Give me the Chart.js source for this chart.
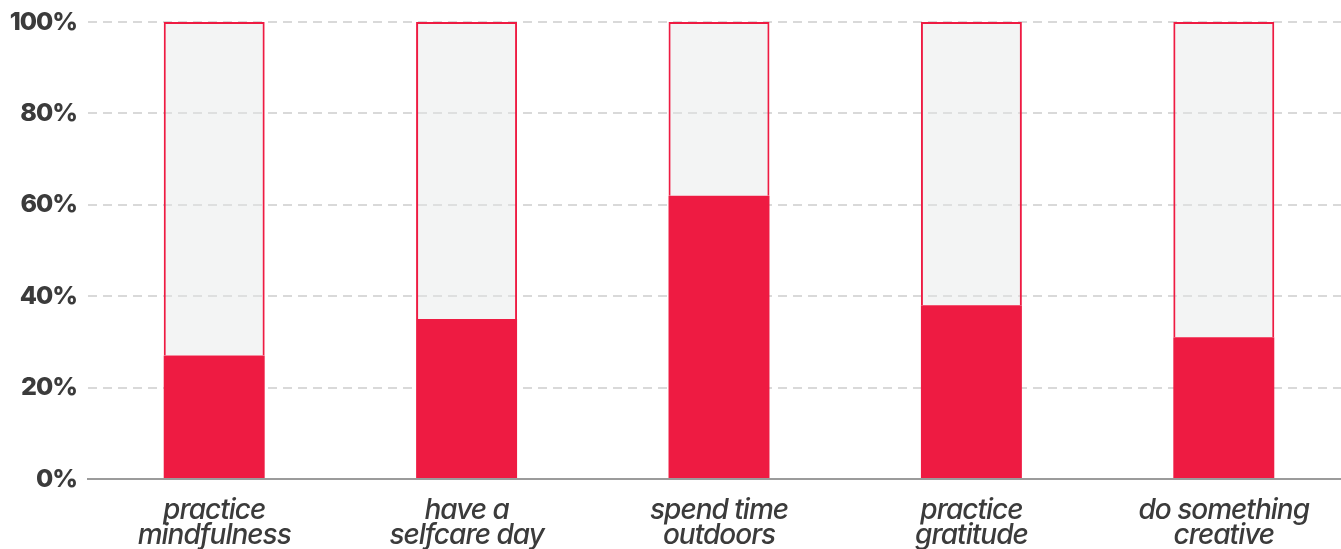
<!DOCTYPE html>
<html>
<head>
<meta charset="utf-8">
<script src="https://cdn.jsdelivr.net/npm/chart.js@4.4.1/dist/chart.umd.min.js"></script>
<style>
  html, body { margin: 0; padding: 0; background: #fff; overflow: hidden; }
  #wrap { position: relative; width: 1350px; height: 549px; }
</style>
</head>
<body>
<div id="wrap"><canvas id="chart"></canvas></div>
<script>
(function () {
    'use strict';

    // ====== Data ======
    const categories = [
        ['practice', 'mindfulness'],
        ['have a', 'selfcare day'],
        ['spend time', 'outdoors'],
        ['practice', 'gratitude'],
        ['do something', 'creative']
    ];
    const shareYes = [27, 35, 62, 38, 31];
    const shareRest = [73, 65, 38, 62, 69];
    const yTicks = [0, 20, 40, 60, 80, 100];

    const RED = '#ee1b42';
    const TEXT = '#3b3b3b';

    // tighter tracking for all canvas text
    const tracking = {
        id: 'tracking',
        beforeLayout(chart) { chart.ctx.letterSpacing = '-1px'; },
        beforeDraw(chart) { chart.ctx.letterSpacing = '-1px'; }
    };

    new Chart(document.getElementById('chart'), {
        type: 'bar',
        data: {
            labels: categories,
            datasets: [{
                data: shareYes,
                backgroundColor: RED,
                borderWidth: 0
            }, {
                data: shareRest,
                backgroundColor: 'rgba(228,231,231,0.45)',
                borderColor: RED,
                borderWidth: 2,
                borderSkipped: 'bottom'
            }]
        },
        options: {
            responsive: true,
            maintainAspectRatio: false,
            animation: false,
            layout: { padding: { top: 22, right: 0, left: 0, bottom: 0 } },
            datasets: {
                bar: { categoryPercentage: 0.4, barPercentage: 1 }
            },
            plugins: {
                legend: { display: false },
                tooltip: { enabled: false }
            },
            scales: {
                x: {
                    stacked: true,
                    grid: { display: false, drawTicks: false },
                    border: { display: true, color: '#9b9b9b', width: 2 },
                    ticks: {
                        padding: 19,
                        color: TEXT,
                        maxRotation: 0,
                        font: { family: 'Inter', size: 28, style: 'italic', weight: '500', lineHeight: 0.9 }
                    },
                    afterFit: (s) => { s.height = 70; }
                },
                y: {
                    stacked: true,
                    min: 0,
                    max: 100,
                    afterBuildTicks: (s) => { s.ticks = yTicks.map(v => ({ value: v })); },
                    grid: {
                        drawTicks: false,
                        lineWidth: 2,
                        color: (ctx) => ctx.tick && ctx.tick.value === 0 ? 'rgba(0,0,0,0)' : '#d9d9d9'
                    },
                    border: { display: false, dash: [9, 6] },
                    ticks: {
                        padding: 11,
                        color: TEXT,
                        callback: (v) => v + '%',
                        font: { family: 'Inter', size: 25, weight: '800' }
                    },
                    afterFit: (s) => { s.width = 88; s.paddingTop = 0; s.paddingBottom = 0; }
                }
            }
        },
        plugins: [tracking]
    });
})();
</script>
</body>
</html>
